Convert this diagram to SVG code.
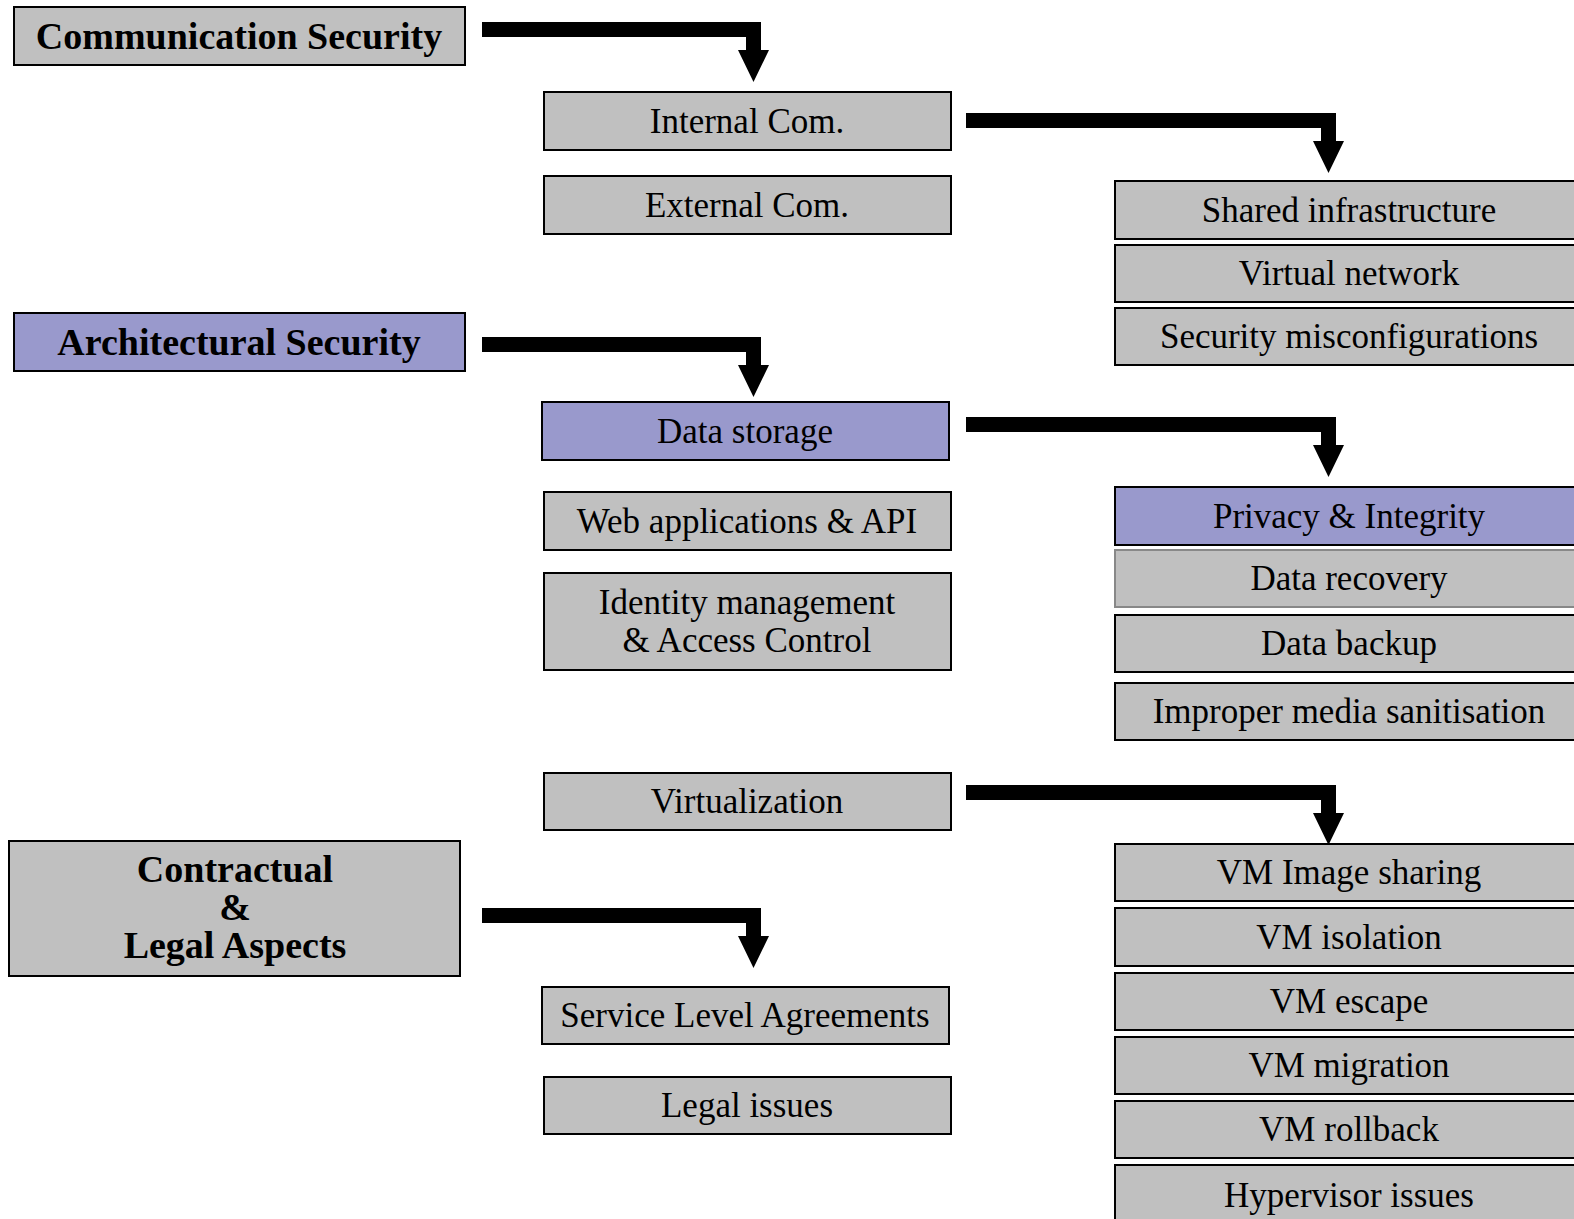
<svg xmlns="http://www.w3.org/2000/svg" xmlns:xlink="http://www.w3.org/1999/xlink" width="1574" height="1219" viewBox="0 0 1574 1219">
<style>
.box{fill:#C0C0C0;stroke:#000;stroke-width:2}
.pbox{fill:#9999CC;stroke:#000;stroke-width:2}
.lbox{fill:#C0C0C0;stroke:#888;stroke-width:2}
.t{font-family:"Liberation Serif","Times New Roman",serif;font-size:35px;fill:#000;text-anchor:middle}
.h{font-family:"Liberation Serif","Times New Roman",serif;font-size:38px;font-weight:bold;fill:#000;text-anchor:middle}
.arr{fill:#000}
</style>
<defs>
<path id="arS" d="M0,0 H279 V28 H287 L271.5,60 L256,28 H264 V15 H0 Z"/>
<path id="arL" d="M0,0 H370 V28 H378 L362.5,60 L347,28 H355 V15 H0 Z"/>
</defs>
<rect width="1574" height="1219" fill="#fff"/>
<g id="connectors" class="arr">
<use xlink:href="#arS" x="482" y="22"/>
<use xlink:href="#arL" x="966" y="113"/>
<use xlink:href="#arS" x="482" y="337"/>
<use xlink:href="#arL" x="966" y="417"/>
<use xlink:href="#arL" x="966" y="785"/>
<use xlink:href="#arS" x="482" y="908"/>
</g>
<g id="n-comsec"><rect class="box" x="14" y="7" width="451" height="58"/><text class="h" x="239" y="49">Communication Security</text></g>
<g id="n-internal"><rect class="box" x="544" y="92" width="407" height="58"/><text class="t" x="747" y="133">Internal Com.</text></g>
<g id="n-external"><rect class="box" x="544" y="176" width="407" height="58"/><text class="t" x="747" y="217">External Com.</text></g>
<g id="n-shared"><rect class="box" x="1115" y="181" width="470" height="58"/><text class="t" x="1349" y="222">Shared infrastructure</text></g>
<g id="n-vnet"><rect class="box" x="1115" y="245" width="470" height="57"/><text class="t" x="1349" y="285">Virtual network</text></g>
<g id="n-misconf"><rect class="box" x="1115" y="308" width="470" height="57"/><text class="t" x="1349" y="348">Security misconfigurations</text></g>
<g id="n-archsec"><rect class="pbox" x="14" y="313" width="451" height="58"/><text class="h" x="239" y="355">Architectural Security</text></g>
<g id="n-datastorage"><rect class="pbox" x="542" y="402" width="407" height="58"/><text class="t" x="745" y="443">Data storage</text></g>
<g id="n-webapps"><rect class="box" x="544" y="492" width="407" height="58"/><text class="t" x="747" y="533">Web applications &amp; API</text></g>
<g id="n-identity"><rect class="box" x="544" y="573" width="407" height="97"/><text class="t" x="747" y="614">Identity management</text><text class="t" x="747" y="652">&amp; Access Control</text></g>
<g id="n-privacy"><rect class="pbox" x="1115" y="487" width="470" height="58"/><text class="t" x="1349" y="528">Privacy &amp; Integrity</text></g>
<g id="n-recovery"><rect class="lbox" x="1115" y="550" width="470" height="57"/><text class="t" x="1349" y="590">Data recovery</text></g>
<g id="n-backup"><rect class="box" x="1115" y="615" width="470" height="57"/><text class="t" x="1349" y="655">Data backup</text></g>
<g id="n-sanit"><rect class="box" x="1115" y="683" width="470" height="57"/><text class="t" x="1349" y="723">Improper media sanitisation</text></g>
<g id="n-virt"><rect class="box" x="544" y="773" width="407" height="57"/><text class="t" x="747" y="813">Virtualization</text></g>
<g id="n-vmimage"><rect class="box" x="1115" y="844" width="470" height="57"/><text class="t" x="1349" y="884">VM Image sharing</text></g>
<g id="n-vmiso"><rect class="box" x="1115" y="908" width="470" height="58"/><text class="t" x="1349" y="949">VM isolation</text></g>
<g id="n-vmescape"><rect class="box" x="1115" y="973" width="470" height="57"/><text class="t" x="1349" y="1013">VM escape</text></g>
<g id="n-vmmig"><rect class="box" x="1115" y="1037" width="470" height="57"/><text class="t" x="1349" y="1077">VM migration</text></g>
<g id="n-vmroll"><rect class="box" x="1115" y="1101" width="470" height="57"/><text class="t" x="1349" y="1141">VM rollback</text></g>
<g id="n-hyper"><rect class="box" x="1115" y="1165" width="470" height="70"/><text class="t" x="1349" y="1207">Hypervisor issues</text></g>
<g id="n-contract"><rect class="box" x="9" y="841" width="451" height="135"/><text class="h" x="235" y="882">Contractual</text><text class="h" x="235" y="920">&amp;</text><text class="h" x="235" y="958">Legal Aspects</text></g>
<g id="n-sla"><rect class="box" x="542" y="987" width="407" height="57"/><text class="t" x="745" y="1027">Service Level Agreements</text></g>
<g id="n-legal"><rect class="box" x="544" y="1077" width="407" height="57"/><text class="t" x="747" y="1117">Legal issues</text></g>
</svg>
